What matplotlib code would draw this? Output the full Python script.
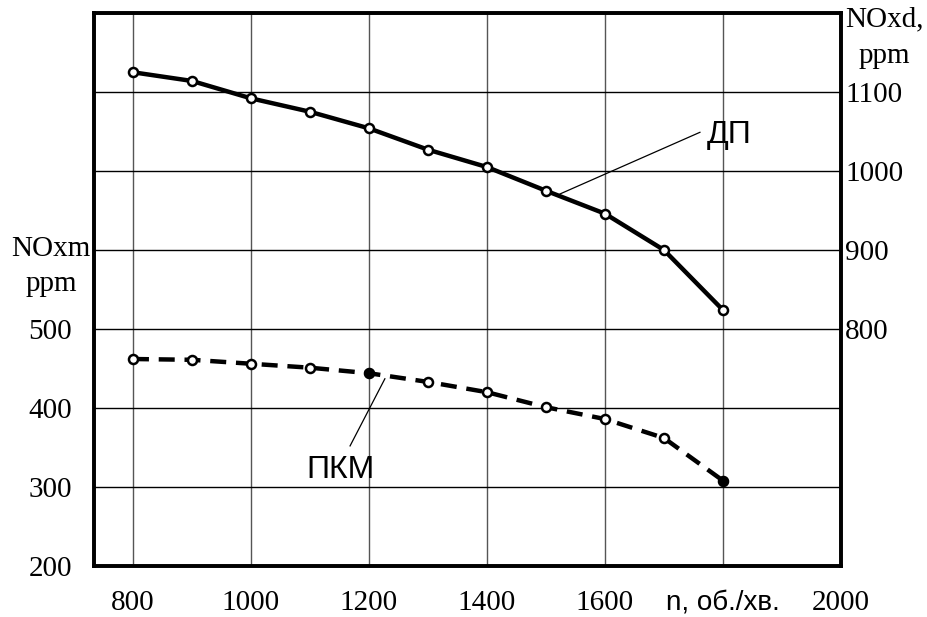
import numpy as np
import matplotlib.pyplot as plt

# engine speed, rpm
n = [800, 900, 1000, 1100, 1200, 1300, 1400, 1500, 1600, 1700, 1800]
# NOx, ppm (right axis, ДП)
nox_dp = [1125, 1114, 1092, 1075, 1054, 1027, 1005, 975, 946, 900, 824]
# NOx, ppm (left axis, ПКМ)
nox_pkm = [462, 461, 456, 451, 444, 433, 420, 401, 386, 362, 308]

xticks = [800, 1000, 1200, 1400, 1600, 1800, 2000]
xlabels = ["800", "1000", "1200", "1400", "1600", "n, об./хв.", "2000"]
left_ticks = [200, 300, 400, 500, 600, 700, 800, 900]
left_labels = ["200", "300", "400", "500", "", "", "", ""]
right_ticks = [800, 900, 1000, 1100]

serif = "Liberation Serif"
sans = "Liberation Sans"

fig = plt.figure(figsize=(9.28, 6.17), dpi=100)
ax = fig.add_axes([0.1013, 0.0827, 0.8049, 0.8962])
ax2 = ax.twinx()

ax.set_xlim(734, 2000)
ax.set_ylim(200, 900)
ax2.set_ylim(500, 1200)

ax.set_xticks(xticks)
ax.set_xticklabels(xlabels, family=serif, fontsize=21)
ax.get_xticklabels()[5].set_family(sans)
ax.get_xticklabels()[5].set_fontsize(20)
ax.set_yticks(left_ticks)
ax.set_yticklabels(left_labels, family=serif, fontsize=21)
ax2.set_yticks(right_ticks)
ax2.set_yticklabels([str(v) for v in right_ticks], family=serif, fontsize=21)
ax.tick_params(axis="y", length=0, pad=16)
ax.tick_params(axis="x", length=0, pad=17)
ax2.tick_params(length=0, pad=3)

ax.grid(axis="y", color="black", lw=1.0)
ax.grid(axis="x", color="#555555", lw=1.0)
ax.set_axisbelow(True)

for a in (ax, ax2):
    for s in a.spines.values():
        s.set_linewidth(2.6)

# ПКМ curve on left axis
ax.plot(n, nox_pkm, color="black", lw=3.2, ls=(0, (3.6, 2.2)), zorder=3)
ax.plot(n, nox_pkm, ls="none", marker="o", ms=6.5, mfc="white", mec="black", mew=1.8, zorder=4)
ax.plot([1200, 1800], [444, 308], ls="none", marker="o", ms=6.5, mfc="black", mec="black", zorder=5)

# ДП curve on right axis
ax2.plot(n, nox_dp, color="black", lw=3.2, zorder=3)
ax2.plot(n, nox_dp, ls="none", marker="o", ms=6.5, mfc="white", mec="black", mew=1.8, zorder=4)

# leaders and labels
ax2.plot([1524, 1761], [971, 1049], color="black", lw=0.9)
ax2.text(1772, 1046, "ДП", family=sans, fontsize=23, va="center", ha="left")
ax.plot([1227, 1168], [437, 352], color="black", lw=0.9)
ax.text(1151, 322, "ПКМ", family=sans, fontsize=23, va="center", ha="center")

fig.text(0.055, 0.597, "NOxm", family=serif, fontsize=21, ha="center", va="center")
fig.text(0.055, 0.540, "ppm", family=serif, fontsize=21, ha="center", va="center")
fig.text(0.953, 0.968, "NOxd,", family=serif, fontsize=21, ha="center", va="center")
fig.text(0.953, 0.910, "ppm", family=serif, fontsize=21, ha="center", va="center")

fig.savefig("out.png", dpi=100)
